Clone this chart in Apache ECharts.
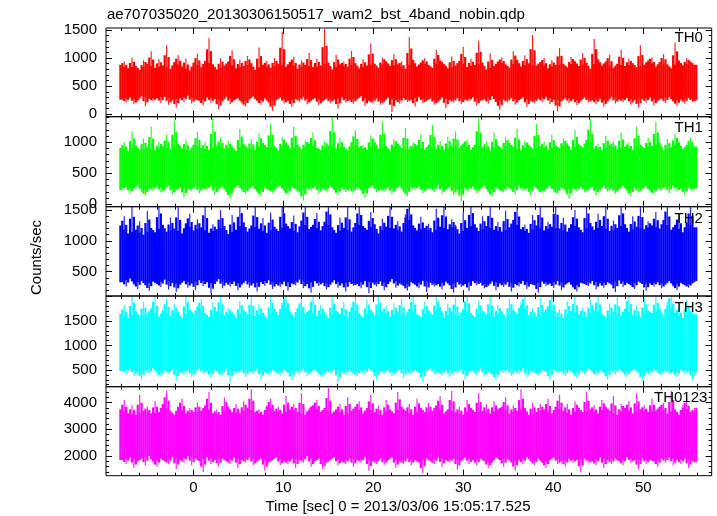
<!DOCTYPE html>
<html><head><meta charset="utf-8">
<script src="https://cdn.jsdelivr.net/npm/echarts@6/dist/echarts.min.js"></script>
<style>html,body{margin:0;padding:0;background:#fff}#c{width:717px;height:516px}</style>
</head><body><div id="c"></div>
<script>
const TITLE = 'ae707035020_20130306150517_wam2_bst_4band_nobin.qdp';
const X_NAME = 'Time [sec] 0 = 2013/03/06 15:05:17.525';
const Y_NAME = 'Counts/sec';
const BANDS = ['TH0', 'TH1', 'TH2', 'TH3', 'TH0123'];
const TIME_START = -8.1;
const TIME_STEP = 0.214;

const TH0 = [
880,260,940,210,820,300,1010,180,860,240,790,320,960,150,900,270,1120,230,830,290,
980,200,870,310,1230,170,810,250,930,120,1050,280,850,220,990,330,780,190,920,260,
1080,240,840,160,950,300,1360,210,890,270,800,90,1000,230,870,310,940,180,1140,250,
820,290,970,200,860,140,1040,260,910,320,790,230,1190,170,880,280,950,210,830,60,
1000,250,900,300,1470,190,850,240,930,130,1020,270,810,220,960,310,880,180,1090,240,
840,290,990,160,870,230,1520,280,920,200,800,260,1060,100,890,300,940,210,850,250,
1130,190,910,270,820,320,980,150,870,240,1260,200,900,280,830,170,1010,230,950,300,
860,40,1070,250,890,190,940,290,810,220,1370,260,970,140,850,310,920,200,1000,240,
880,280,830,170,1150,230,960,300,900,110,820,250,1030,210,870,290,950,180,1200,260,
840,230,990,300,880,150,1310,240,920,270,800,190,1080,320,860,220,940,80,1010,260,
890,210,830,290,1120,170,970,250,850,300,1050,130,910,240,1410,200,870,280,930,220,
1000,310,820,180,960,260,880,50,1180,230,900,290,840,200,1020,270,950,160,860,240,
1090,300,920,210,810,250,1340,180,980,280,870,140,940,230,1060,310,830,190,900,260,
1150,220,860,290,990,170,910,250,840,120,1230,270,880,210,970,300,1010,160,850,240,
930,280,1070,200,890,310,820,230,1280,150,960,260,870,190,1000,290,940,220,880,250];

const TH1 = [
910,230,1000,280,860,170,1180,250,950,310,880,200,1060,140,920,260,1250,220,870,290,
1010,190,940,240,1120,300,890,160,1350,230,980,270,900,110,1040,250,870,210,960,290,
1170,180,910,260,1000,230,880,300,1390,150,950,240,1080,280,900,200,1020,90,930,260,
860,310,1210,220,970,170,910,250,1050,290,880,200,1140,130,990,270,920,230,1300,180,
940,260,870,300,1080,210,1010,150,900,280,1250,240,960,190,890,60,1030,260,980,220,
1160,290,910,170,880,250,1020,210,950,300,1420,230,900,140,1070,270,930,200,870,250,
1000,180,1190,280,920,230,960,100,880,260,1110,300,1010,190,900,240,1340,210,940,280,
870,160,1050,250,980,300,910,200,1230,130,890,270,1000,230,950,290,1130,180,880,240,
960,260,1280,200,900,310,1020,170,870,240,1090,280,940,150,1180,230,910,50,990,260,
1040,210,880,290,960,180,1390,250,920,300,1010,200,870,120,1150,270,950,230,900,190,
1080,280,990,240,930,160,1220,300,870,210,1030,260,960,140,900,290,1300,220,940,180,
1010,250,880,300,1120,200,950,170,910,270,1060,230,990,90,880,260,1200,210,970,290,
920,190,1040,240,1370,280,900,150,980,230,870,300,1100,200,950,260,1010,170,890,240,
1160,300,930,220,1000,130,880,270,1250,190,960,250,910,290,1070,210,940,160,1330,260,
990,230,870,280,1050,180,920,300,1140,210,1000,250,890,150,960,270,1080,220,930,260];

const TH2 = [
1250,330,1400,260,1120,390,1600,300,1180,220,1320,350,1100,280,1480,190,1210,340,1140,300,
1630,250,1260,370,1150,210,1380,320,1200,170,1560,290,1120,350,1290,240,1440,310,1170,200,
1350,360,1220,270,1610,330,1130,150,1270,300,1190,380,1500,230,1240,320,1110,260,1420,340,
1180,200,1600,290,1300,350,1150,240,1250,310,1570,180,1200,330,1370,270,1130,360,1460,220,
1230,300,1160,250,1620,340,1280,190,1200,310,1410,280,1140,370,1330,230,1590,300,1190,160,
1260,350,1450,270,1170,320,1310,210,1640,290,1220,360,1130,240,1380,310,1210,180,1550,330,
1150,270,1290,300,1600,230,1240,350,1180,150,1470,320,1270,260,1120,340,1360,200,1230,300,
1580,380,1200,240,1320,310,1150,270,1430,190,1610,330,1250,290,1170,230,1390,350,1210,170,
1280,320,1140,260,1520,300,1230,210,1600,340,1190,280,1350,160,1260,330,1120,250,1460,300,
1210,190,1630,350,1270,280,1160,320,1400,230,1240,270,1570,340,1180,200,1300,310,1150,250,
1490,330,1220,180,1340,300,1600,260,1190,350,1260,220,1130,300,1420,280,1250,160,1590,340,
1170,270,1310,310,1230,230,1650,350,1200,200,1380,290,1150,330,1270,250,1500,180,1220,320,
1140,300,1600,270,1290,350,1180,210,1440,310,1240,240,1560,330,1160,290,1330,170,1210,360,
1620,250,1270,320,1150,280,1400,220,1230,340,1580,300,1190,190,1320,310,1250,260,1470,330,
1200,230,1340,290,1610,350,1180,270,1260,200,1430,320,1140,280,1300,240,1590,310,1220,350];

const TH3 = [
1650,480,1820,420,1560,530,2050,380,1700,460,1600,300,1900,500,1640,410,1760,540,2030,440,
1590,360,1720,490,1960,430,1610,520,1850,280,1680,470,1550,400,2040,510,1740,350,1630,450,
1800,540,1950,420,1660,480,1580,330,1880,500,1700,440,2060,390,1620,520,1770,260,1690,470,
1570,430,1910,510,1730,360,1640,480,2020,420,1600,530,1840,310,1670,460,1560,400,1990,500,
1750,450,1620,380,1870,520,2040,440,1690,290,1580,490,1790,410,1930,530,1650,370,1720,460,
2070,510,1600,420,1830,350,1680,480,1560,440,1980,520,1710,250,1640,460,1890,400,1590,500,
1780,430,2010,370,1660,490,1570,410,1940,530,1730,460,1620,300,2050,480,1700,420,1810,510,
1590,380,1860,450,1680,520,1960,340,1610,470,1750,410,2030,500,1640,440,1580,270,1900,480,
1720,530,1630,420,2000,460,1790,390,1570,510,1850,350,1690,480,1980,430,1610,520,1740,310,
2060,450,1660,490,1580,400,1920,530,1710,370,1640,460,2040,420,1600,280,1820,500,1700,440,
1570,510,1950,380,1730,470,1650,420,1880,530,2020,340,1620,480,1760,450,1590,390,1970,500,
1680,460,1800,290,2050,520,1610,430,1740,480,1560,370,1910,510,1700,440,2000,330,1640,490,
1780,420,1590,530,1940,460,1720,380,2030,500,1650,440,1570,300,1860,490,1690,410,1990,520,
1610,450,1750,360,2060,480,1630,510,1820,430,1580,280,1970,470,1710,400,1660,530,2000,440,
1740,390,1600,500,1890,420,2040,460,1670,350,1780,510,1560,430,1930,480,1700,300,1640,460];

const TH0123 = [
3750,1850,4100,1700,3600,1950,3900,1550,3550,1800,4300,1900,3700,1650,3850,2000,3600,1750,4050,1600,
3650,1900,3950,1800,4450,1700,3700,1950,3550,1500,3850,1850,4150,1750,3600,2000,3800,1650,3650,1900,
4000,1800,3700,1400,3900,1950,4400,1700,3600,1850,3750,1600,3550,1900,4200,1800,3850,1700,3650,1950,
3950,1550,3600,1850,4050,1750,3800,1950,4500,1650,3650,1800,3750,1900,3550,1450,3900,1750,4150,1850,
3700,1950,3850,1650,3600,1800,4250,1700,3750,1900,3950,1550,3650,1850,4350,1750,3550,2000,3800,1600,
3900,1800,4100,1900,3650,1500,3800,1750,4550,1850,3600,1950,3750,1650,3950,1800,3550,1700,4200,1900,
3700,1600,3850,1850,4050,1750,3600,1950,3800,1450,4300,1800,3650,1700,3900,1900,3550,1650,4100,1850,
3750,1950,3600,1550,4400,1800,3850,1700,3700,1900,3950,1650,3550,1850,4150,1750,3800,1350,3650,1900,
4000,1800,3700,1700,3900,1950,4250,1600,3600,1850,3750,1750,4450,1900,3650,1500,3850,1800,3550,1950,
4100,1700,3800,1850,3650,1650,4350,1900,3700,1800,3950,1550,3600,1750,4050,1950,3750,1850,3850,1600,
4200,1900,3600,1750,3900,1450,3700,1850,4500,1700,3800,1950,3550,1800,4000,1650,3650,1900,3950,1750,
3750,1550,4150,1850,3600,1950,3850,1700,4300,1800,3700,1600,3950,1900,3550,1750,4050,1850,3800,1400,
3650,1900,4400,1750,3750,1800,3900,1650,3600,1950,4100,1550,3850,1850,3700,1700,4250,1900,3550,1800,
3950,1650,3800,1950,4050,1750,3600,1850,4350,1500,3750,1900,3900,1700,3650,1850,4150,1800,3700,1600,
3850,1900,4000,1750,3600,1950,4450,1650,3750,1850,3550,1700,3900,1900,4100,1550,3650,1800,3800,1750];

const X_TICK_LABELS = [0, 10, 20, 30, 40, 50];
const Y_TICK_LABELS = [
  [0, 500, 1000, 1500],
  [0, 500, 1000],
  [500, 1000, 1500],
  [500, 1000, 1500],
  [2000, 3000, 4000]
];

const SERIES_VALUES = [TH0, TH1, TH2, TH3, TH0123];
const COLORS = ['#ff0000', '#00ff00', '#0000ff', '#00ffff', '#ff00ff'];
const FONT = '"Liberation Sans", Arial, Helvetica, sans-serif';

// layout (pixels / axis extents)
const X_MIN = -9.7, X_MAX = 57.6;
const PANELS = [
  {top: 28,    height: 88.7, min: -43,  max: 1536, major: 500,  minor: 100, lx: 674.5, ly: 37.5},
  {top: 116.7, height: 90.0, min: -39,  max: 1413, major: 500,  minor: 100, lx: 674.5, ly: 127.5},
  {top: 206.7, height: 89.3, min: 106,  max: 1554, major: 500,  minor: 100, lx: 674.5, ly: 219},
  {top: 296,   height: 90.7, min: 159,  max: 2010, major: 500,  minor: 100, lx: 674.5, ly: 307.5},
  {top: 386.7, height: 89.0, min: 1261, max: 4600, major: 1000, minor: 200, lx: 654,   ly: 397.5}
];

function multiples(lo, hi, step) {
  const out = [];
  for (let k = Math.ceil(lo / step); k * step <= hi; k++) out.push(+(k * step).toFixed(6));
  return out;
}

const xMajor = multiples(X_MIN, X_MAX, 10);
const xMinor = multiples(X_MIN, X_MAX, 2);

const grids = [], xAxes = [], yAxes = [], series = [];
const tickStyle = {color: '#000', width: 1};
const labelStyle = {fontSize: 15, color: '#000', fontFamily: FONT, formatter: v => String(v)};

// Each sample: a column from the neighbours' mean level to the sample value;
// the part that pokes out beyond the same-parity neighbours is drawn as a thin needle.
function makeRenderer(color) {
  return function (params, api) {
    const t = api.value(0), v = api.value(1), nb = api.value(2), ref = api.value(3);
    const cs = params.coordSys;
    const box = {x: cs.x, y: cs.y, width: cs.width, height: cs.height};
    const half = TIME_STEP / 2;
    const up = v >= nb;
    const spike = up ? v > ref && ref > nb : v < ref && ref < nb;
    const coreEnd = spike ? ref : v;
    const children = [];
    const a = api.coord([t - half, Math.max(coreEnd, nb)]);
    const b = api.coord([t + half, Math.min(coreEnd, nb)]);
    const core = echarts.graphic.clipRectByRect(
      {x: a[0] - 0.15, y: a[1], width: b[0] - a[0] + 0.3, height: Math.max(1, b[1] - a[1])}, box);
    if (core) children.push({type: 'rect', shape: core, style: {fill: color}});
    if (spike) {
      const c = api.coord([t, Math.max(v, ref)]);
      const d = api.coord([t, Math.min(v, ref)]);
      const needle = echarts.graphic.clipRectByRect(
        {x: c[0] - 0.6, y: c[1], width: 1.2, height: Math.max(1, d[1] - c[1])}, box);
      if (needle) children.push({type: 'rect', shape: needle, style: {fill: color, opacity: 0.85}});
    }
    return {type: 'group', children: children, silent: true};
  };
}

PANELS.forEach((p, i) => {
  grids.push({left: 106, right: 5.3, top: p.top, height: p.height, show: true,
    borderColor: '#000', borderWidth: 1, backgroundColor: 'transparent', containLabel: false, z: 5});
  const baseX = {gridIndex: i, type: 'value', min: X_MIN, max: X_MAX,
    axisLine: {show: false, onZero: false}, splitLine: {show: false}};
  [['bottom', true], ['bottom', false], ['top', true], ['top', false]].forEach(([pos, maj]) => {
    xAxes.push(Object.assign({}, baseX, {
      position: pos,
      axisTick: {show: true, inside: true, length: maj ? 6 : 3, customValues: maj ? xMajor : xMinor, lineStyle: tickStyle},
      axisLabel: (pos === 'bottom' && maj && i === 4)
        ? Object.assign({show: true, customValues: X_TICK_LABELS, margin: 5}, labelStyle)
        : {show: false}
    }));
  });
  const yMaj = multiples(p.min, p.max, p.major);
  const yMin = multiples(p.min, p.max, p.minor);
  const baseY = {gridIndex: i, type: 'value', min: p.min, max: p.max,
    axisLine: {show: false, onZero: false}, splitLine: {show: false}};
  [['left', true], ['left', false], ['right', true], ['right', false]].forEach(([pos, maj]) => {
    yAxes.push(Object.assign({}, baseY, {
      position: pos,
      axisTick: {show: true, inside: true, length: maj ? 6 : 3, customValues: maj ? yMaj : yMin, lineStyle: tickStyle},
      axisLabel: (pos === 'left' && maj)
        ? Object.assign({show: true, customValues: Y_TICK_LABELS[i], margin: 9}, labelStyle)
        : {show: false}
    }));
  });
  const vals = SERIES_VALUES[i];
  const n = vals.length;
  const at = k => vals[Math.min(n - 1, Math.max(0, k))];
  const items = vals.map((v, k) => {
    const prev = k > 0 ? vals[k - 1] : vals[k + 1];
    const next = k < n - 1 ? vals[k + 1] : vals[k - 1];
    const p2 = k > 1 ? vals[k - 2] : at(k + 2);
    const n2 = k < n - 2 ? vals[k + 2] : at(k - 2);
    return [TIME_START + k * TIME_STEP, v, (prev + next) / 2, (p2 + n2) / 2];
  });
  series.push({
    type: 'custom', name: BANDS[i], xAxisIndex: i * 4, yAxisIndex: i * 4,
    dimensions: ['t', 'v', 'nb', 'ref'],
    encode: {x: 0, y: [1, 2]},
    data: items,
    renderItem: makeRenderer(COLORS[i]),
    silent: true, z: 2
  });
});

const graphic = [
  {type: 'text', x: 107, y: 15, style: {text: TITLE, fontSize: 15, fontFamily: FONT, fill: '#000', textAlign: 'left', textVerticalAlign: 'middle'}},
  {type: 'text', x: 398, y: 506.5, style: {text: X_NAME, fontSize: 15, fontFamily: FONT, fill: '#000', textAlign: 'center', textVerticalAlign: 'middle'}},
  {type: 'text', x: 37, y: 257.5, rotation: Math.PI / 2, style: {text: Y_NAME, fontSize: 15, fontFamily: FONT, fill: '#000', textAlign: 'center', textVerticalAlign: 'middle'}}
];
PANELS.forEach((p, i) => {
  graphic.push({type: 'text', x: p.lx, y: p.ly, z: 100, style: {text: BANDS[i], fontSize: 15, fontFamily: FONT, fill: '#000', textAlign: 'left', textVerticalAlign: 'middle'}});
});

const chart = echarts.init(document.getElementById('c'), null, {renderer: 'canvas'});
chart.setOption({
  animation: false,
  backgroundColor: '#fff',
  grid: grids, xAxis: xAxes, yAxis: yAxes, series: series, graphic: graphic
});
</script></body></html>
